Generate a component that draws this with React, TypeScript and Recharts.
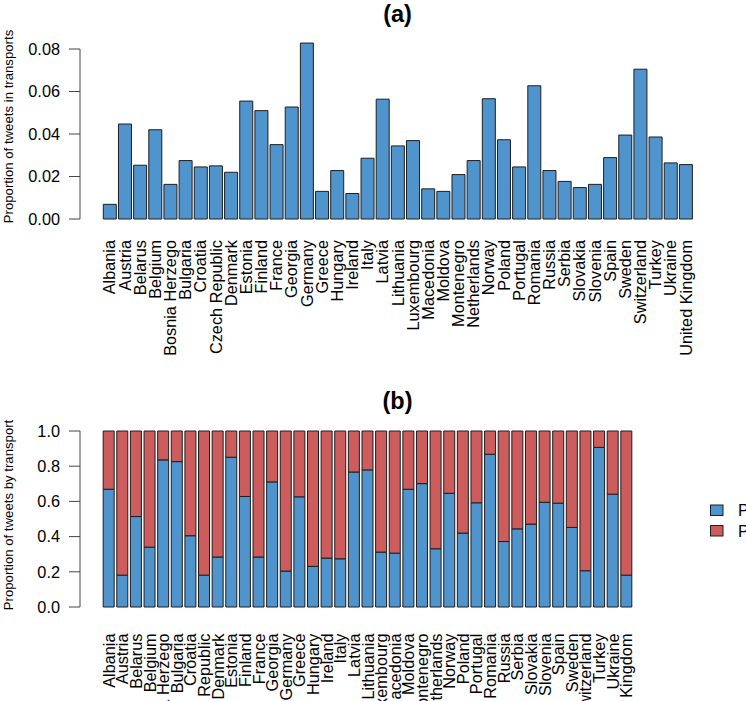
import React from "react";
import { BarChart, Bar, XAxis, YAxis, Legend } from "recharts";

const countries = [
  "Albania", "Austria", "Belarus", "Belgium", "Bosnia Herzego", "Bulgaria", "Croatia",
  "Czech Republic", "Denmark", "Estonia", "Finland", "France", "Georgia", "Germany",
  "Greece", "Hungary", "Ireland", "Italy", "Latvia", "Lithuania", "Luxembourg",
  "Macedonia", "Moldova", "Montenegro", "Netherlands", "Norway", "Poland", "Portugal",
  "Romania", "Russia", "Serbia", "Slovakia", "Slovenia", "Spain", "Sweden",
  "Switzerland", "Turkey", "Ukraine", "United Kingdom",
];

const transportShare = [
  0.0069, 0.0447, 0.0253, 0.042, 0.0163, 0.0275, 0.0245, 0.025, 0.022, 0.0555,
  0.051, 0.035, 0.0527, 0.0828, 0.013, 0.0228, 0.012, 0.0286, 0.0564, 0.0344,
  0.0369, 0.0142, 0.013, 0.0209, 0.0275, 0.0566, 0.0373, 0.0245, 0.0627, 0.0228,
  0.0177, 0.0148, 0.0163, 0.0289, 0.0395, 0.0705, 0.0386, 0.0264, 0.0256,
];

const publicShare = [
  0.669, 0.181, 0.514, 0.34, 0.836, 0.826, 0.405, 0.181, 0.284, 0.851,
  0.628, 0.284, 0.711, 0.204, 0.626, 0.231, 0.278, 0.274, 0.767, 0.779,
  0.312, 0.306, 0.669, 0.701, 0.331, 0.646, 0.42, 0.592, 0.868, 0.372,
  0.444, 0.471, 0.595, 0.59, 0.452, 0.206, 0.907, 0.641, 0.181,
];

const privateShare = [
  0.331, 0.819, 0.486, 0.66, 0.164, 0.174, 0.595, 0.819, 0.716, 0.149,
  0.372, 0.716, 0.289, 0.796, 0.374, 0.769, 0.722, 0.726, 0.233, 0.221,
  0.688, 0.694, 0.331, 0.299, 0.669, 0.354, 0.58, 0.408, 0.132, 0.628,
  0.556, 0.529, 0.405, 0.41, 0.548, 0.794, 0.093, 0.359, 0.819,
];

const ticksA = [0, 0.02, 0.04, 0.06, 0.08];
const domainA: [number, number] = [0, 0.085];
const ticksB = [0, 0.2, 0.4, 0.6, 0.8, 1.0];
const domainB: [number, number] = [0, 1];

const seriesNames = ["Public", "Private"];
const titles = ["(a)", "(b)"];
const yTitles = ["Proportion of tweets in transports", "Proportion of tweets by transport"];

const dataA = countries.map((c, i) => ({ country: c, share: transportShare[i] }));
const dataB = countries.map((c, i) => ({ country: c, pub: publicShare[i], priv: privateShare[i] }));

const FONT = "'Liberation Sans', Arial, Helvetica, sans-serif";
const FTICK = 16.3;
const FX = 16.3;
const FLAB = 13.2;
const FLEG = 16.3;
const BLUE = "#4F94CD";
const RED = "#CD5C5C";
const EDGE = "#1e1e1e";
const AXIS = "#444";
const TS = 11;
const TM = 9;

const spineStore: Record<string, number> = {};

function YTick(props: any) {
  const { x, y, payload, digits, spineTop } = props;
  const ax = x + TS + TM;
  let spineEl = null;
  if (spineTop !== undefined) {
    const v = payload.value;
    if (v === 0) spineStore.bottom = y;
    if (v === spineTop) spineStore.top = y;
    if ((v === 0 || v === spineTop) && typeof spineStore.bottom === "number" && typeof spineStore.top === "number") {
      spineEl = <line x1={ax} x2={ax} y1={spineStore.top} y2={spineStore.bottom} stroke={AXIS} strokeWidth={1} />;
    }
  }
  return (
    <g>
      {spineEl}
      <text
        x={x}
        y={y}
        textAnchor="end"
        dy={0.358 * FTICK}
        fontSize={FTICK}
        fontFamily={FONT}
        fill="#000"
      >
        {Number(payload.value).toFixed(digits)}
      </text>
    </g>
  );
}

function XTick(props: any) {
  const { x, y, payload, gap } = props;
  return (
    <text
      transform={`translate(${x},${y + gap}) rotate(-90)`}
      textAnchor="end"
      dy={0.358 * FX}
      fontSize={FX}
      fontFamily={FONT}
      fill="#000"
    >
      {payload.value}
    </text>
  );
}

function YTitle(props: any) {
  const { viewBox, text, shift } = props;
  const vb = viewBox || { x: 0, y: 0, width: 80, height: 100 };
  const cx = vb.x + 12.5;
  const cy = vb.y + vb.height / 2 + shift;
  return (
    <text
      transform={`translate(${cx},${cy}) rotate(-90)`}
      textAnchor="middle"
      fontSize={FLAB}
      fontFamily={FONT}
      fill="#000"
    >
      {text}
    </text>
  );
}

function LegendBox(props: any) {
  const payload = [...(props.payload || [])].sort(
    (a: any, b: any) => seriesNames.indexOf(a.value) - seriesNames.indexOf(b.value)
  );
  return (
    <svg width={60} height={40} style={{ overflow: "visible", display: "block" }}>
      {payload.map((p: any, i: number) => (
        <g key={i}>
          <rect x={8.5} y={4 + i * 20.5} width={12.5} height={10.5} fill={p.color} stroke={EDGE} strokeWidth={1} />
          <text
            x={36}
            y={9.3 + i * 20.5}
            dy={0.358 * FLEG}
            fontSize={FLEG}
            fontFamily={FONT}
            fill="#000"
          >
            {p.value}
          </text>
        </g>
      ))}
    </svg>
  );
}

export default function App() {
  return (
    <div style={{ position: "absolute", left: 0, top: 0, width: 746, height: 701, overflow: "hidden", background: "#fff" }}>
      <div style={{ position: "absolute", left: 0, top: 0 }}>
        <BarChart
          width={746}
          height={370}
          data={dataA}
          margin={{ top: 38.4, right: 52.7, left: 0, bottom: 0 }}
          barCategoryGap="8.33%"
        >
          <XAxis
            dataKey="country"
            interval={0}
            axisLine={false}
            tickLine={false}
            tickSize={0}
            tickMargin={0}
            height={151}
            padding={{ left: 22.04, right: 0 }}
            tick={(p: any) => <XTick {...p} gap={21} />}
          />
          <YAxis
            type="number"
            domain={domainA}
            ticks={ticksA}
            width={80}
            axisLine={false}
            tickLine={{ stroke: AXIS, strokeWidth: 1 }}
            tickSize={TS}
            tickMargin={TM}
            tick={(p: any) => <YTick {...p} digits={2} spineTop={ticksA[ticksA.length - 1]} />}
            label={<YTitle text={yTitles[0]} shift={-2.2} />}
          />
          <Bar dataKey="share" fill={BLUE} stroke={EDGE} strokeWidth={1} isAnimationActive={false} />
        </BarChart>
      </div>
      <div style={{ position: "absolute", left: 0, top: 370 }}>
        <BarChart
          width={746}
          height={331}
          data={dataB}
          margin={{ top: 61, right: 52.7, left: 0, bottom: 0 }}
          barCategoryGap="8.33%"
        >
          <XAxis
            dataKey="country"
            interval={0}
            axisLine={false}
            tickLine={false}
            tickSize={0}
            tickMargin={0}
            height={94}
            padding={{ left: 22.04, right: 0 }}
            tick={(p: any) => <XTick {...p} gap={26.5} />}
          />
          <YAxis
            type="number"
            domain={domainB}
            ticks={ticksB}
            width={80}
            axisLine={{ stroke: AXIS, strokeWidth: 1 }}
            tickLine={{ stroke: AXIS, strokeWidth: 1 }}
            tickSize={TS}
            tickMargin={TM}
            tick={(p: any) => <YTick {...p} digits={1} />}
            label={<YTitle text={yTitles[1]} shift={-4} />}
          />
          <Legend
            layout="horizontal"
            verticalAlign="middle"
            align="right"
            content={<LegendBox />}
            wrapperStyle={{ left: 702, top: 131, width: 60, height: 40 }}
          />
          <Bar dataKey="pub" name={seriesNames[0]} stackId="s" fill={BLUE} stroke={EDGE} strokeWidth={1} isAnimationActive={false} />
          <Bar dataKey="priv" name={seriesNames[1]} stackId="s" fill={RED} stroke={EDGE} strokeWidth={1} isAnimationActive={false} />
        </BarChart>
      </div>
      <svg width={746} height={701} style={{ position: "absolute", left: 0, top: 0, pointerEvents: "none" }}>
        <text x={397.5} y={22.1} textAnchor="middle" fontSize={23.5} fontWeight="bold" fontFamily={FONT} fill="#000">
          {titles[0]}
        </text>
        <text x={397.5} y={408.8} textAnchor="middle" fontSize={23.5} fontWeight="bold" fontFamily={FONT} fill="#000">
          {titles[1]}
        </text>
      </svg>
    </div>
  );
}
